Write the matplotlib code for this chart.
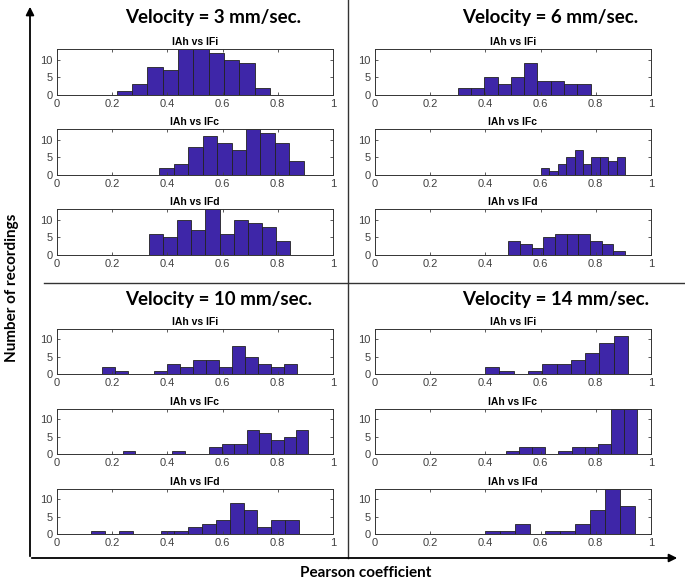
import numpy as np
import matplotlib.pyplot as plt

# histogram data: first bin edge, last bin edge, counts per bin
v3_ifi_range = (0.217, 0.771)
v3_ifi_counts = [1, 3, 8, 7, 13, 13, 12, 10, 9, 2]
v3_ifc_range = (0.371, 0.894)
v3_ifc_counts = [2, 3, 8, 11, 9, 7, 13, 12, 9, 4]
v3_ifd_range = (0.333, 0.845)
v3_ifd_counts = [6, 5, 10, 7, 13, 6, 10, 9, 8, 4]

v6_ifi_range = (0.300, 0.781)
v6_ifi_counts = [2, 2, 5, 3, 5, 9, 4, 4, 3, 3]
v6_ifc_range = (0.601, 0.906)
v6_ifc_counts = [2, 1, 3, 5, 7, 3, 5, 5, 4, 5]
v6_ifd_range = (0.483, 0.906)
v6_ifd_counts = [4, 3, 2, 5, 6, 6, 6, 4, 3, 1]

v10_ifi_range = (0.163, 0.870)
v10_ifi_counts = [2, 1, 0, 0, 1, 3, 2, 4, 4, 2, 8, 5, 3, 2, 3]
v10_ifc_range = (0.238, 0.911)
v10_ifc_counts = [1, 0, 0, 0, 1, 0, 0, 2, 3, 3, 7, 6, 4, 5, 7]
v10_ifd_range = (0.124, 0.877)
v10_ifd_counts = [1, 0, 1, 0, 0, 1, 1, 2, 3, 4, 9, 7, 2, 4, 4]

v14_ifi_range = (0.399, 0.917)
v14_ifi_counts = [2, 1, 0, 1, 3, 3, 4, 6, 9, 11]
v14_ifc_range = (0.475, 0.949)
v14_ifc_counts = [1, 2, 2, 0, 1, 2, 2, 3, 13, 13]
v14_ifd_range = (0.398, 0.941)
v14_ifd_counts = [1, 1, 3, 0, 1, 1, 3, 7, 13, 8]

sub_titles = ["IAh vs IFi", "IAh vs IFc", "IAh vs IFd"]
panel_titles = ["Velocity = 3 mm/sec.", "Velocity = 6 mm/sec.",
                "Velocity = 10 mm/sec.", "Velocity = 14 mm/sec."]
panels = [
    [(v3_ifi_range, v3_ifi_counts), (v3_ifc_range, v3_ifc_counts), (v3_ifd_range, v3_ifd_counts)],
    [(v6_ifi_range, v6_ifi_counts), (v6_ifc_range, v6_ifc_counts), (v6_ifd_range, v6_ifd_counts)],
    [(v10_ifi_range, v10_ifi_counts), (v10_ifc_range, v10_ifc_counts), (v10_ifd_range, v10_ifd_counts)],
    [(v14_ifi_range, v14_ifi_counts), (v14_ifc_range, v14_ifc_counts), (v14_ifd_range, v14_ifd_counts)],
]

W, H = 685, 582
bar_color = "#3e26a8"
tick_color = "#404040"
mat_font = ["Liberation Sans", "DejaVu Sans"]
big_font = ["Lato", "DejaVu Sans"]

fig = plt.figure(figsize=(W / 100, H / 100), dpi=100)

# pixel layout of panels
panel_x = [(57, 333), (375, 651), (57, 333), (375, 651)]
panel_rows = [[(49, 95), (129, 175), (209, 255)],
              [(49, 95), (129, 175), (209, 255)],
              [(329, 374), (409, 454), (489, 534)],
              [(329, 374), (409, 454), (489, 534)]]
panel_title_pos = [(125, 18), (462, 18), (125, 300), (462, 300)]

for p in range(4):
    x0, x1 = panel_x[p]
    for r in range(3):
        y0, y1 = panel_rows[p][r]
        ax = fig.add_axes([x0 / W, 1 - y1 / H, (x1 - x0) / W, (y1 - y0) / H])
        (lo, hi), counts = panels[p][r]
        edges = np.linspace(lo, hi, len(counts) + 1)
        ax.bar(edges[:-1], counts, width=edges[1] - edges[0], align="edge",
               color=bar_color, edgecolor="#222222", linewidth=0.6)
        ax.set_xlim(0, 1)
        ax.set_ylim(0, 13)
        ax.set_xticks([0, 0.2, 0.4, 0.6, 0.8, 1])
        ax.set_xticklabels(["0", "0.2", "0.4", "0.6", "0.8", "1"])
        ax.set_yticks([0, 5, 10])
        ax.tick_params(direction="in", length=2.5, width=0.6, labelsize=8,
                       colors=tick_color, top=True, right=True, pad=3)
        for lab in ax.get_xticklabels() + ax.get_yticklabels():
            lab.set_family(mat_font)
        for s in ax.spines.values():
            s.set_color("#333333")
            s.set_linewidth(0.7)
        ax.set_title(sub_titles[r], fontsize=7.5, fontweight="bold", pad=3,
                     family=mat_font)
    tx, ty = panel_title_pos[p]
    fig.text(tx / W, 1 - ty / H, panel_titles[p], fontsize=13.5, fontweight="bold",
             ha="left", va="center", family=big_font)

# overlay for frame lines, arrows and axis labels
ov = fig.add_axes([0, 0, 1, 1], zorder=-1)
ov.set_xlim(0, W)
ov.set_ylim(H, 0)
ov.axis("off")
ov.plot([348, 348], [0, 558], color="#333333", lw=1)
ov.plot([44, W], [283, 283], color="#333333", lw=1)
ov.annotate("", xy=(30, 4), xytext=(30, 559),
            arrowprops=dict(arrowstyle="-|>", color="black", lw=1.3, mutation_scale=12))
ov.annotate("", xy=(680, 558), xytext=(29, 558),
            arrowprops=dict(arrowstyle="-|>", color="black", lw=1.3, mutation_scale=12))
ov.text(12, 288, "Number of recordings", rotation=90, fontsize=11, fontweight="bold",
        ha="center", va="center", family=big_font)
ov.text(366, 573, "Pearson coefficient", fontsize=11, fontweight="bold",
        ha="center", va="center", family=big_font)

fig.savefig("out.png", dpi=100)
